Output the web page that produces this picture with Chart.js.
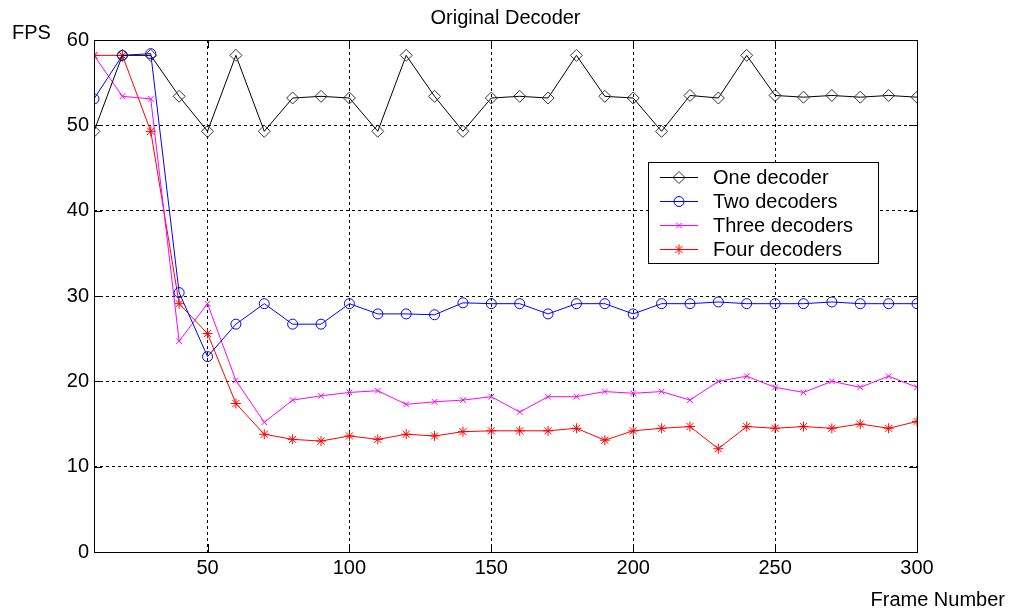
<!DOCTYPE html>
<html>
<head>
<meta charset="utf-8">
<script src="https://cdn.jsdelivr.net/npm/chart.js@4.4.1/dist/chart.umd.min.js"></script>
<style>
  html, body { margin: 0; padding: 0; background: #fff; }
  #wrap { width: 1011px; height: 613px; }
</style>
</head>
<body>
<div id="wrap"><canvas id="myChart" width="1011" height="613"></canvas></div>
<script>
// frame numbers on the x axis
const frames = [10, 20, 30, 40, 50, 60, 70, 80, 90, 100,
    110, 120, 130, 140, 150, 160, 170, 180, 190, 200,
    210, 220, 230, 240, 250, 260, 270, 280, 290, 300];

const oneDecoder = [49.3, 58.2, 58.2, 53.4, 49.3, 58.2, 49.3, 53.2, 53.4, 53.2,
    49.3, 58.2, 53.4, 49.3, 53.2, 53.4, 53.2, 58.2, 53.4, 53.2,
    49.3, 53.5, 53.2, 58.2, 53.5, 53.3, 53.5, 53.3, 53.5, 53.3];
const twoDecoders = [53.1, 58.2, 58.4, 30.4, 22.9, 26.7, 29.1, 26.7, 26.7, 29.1,
    27.9, 27.9, 27.8, 29.2, 29.1, 29.1, 27.9, 29.1, 29.1, 27.9,
    29.1, 29.1, 29.3, 29.1, 29.1, 29.1, 29.3, 29.1, 29.1, 29.1];
const threeDecoders = [58.2, 53.4, 53.1, 24.7, 29.1, 20.1, 15.2, 17.8, 18.3, 18.7,
    18.9, 17.3, 17.6, 17.8, 18.2, 16.4, 18.2, 18.2, 18.8, 18.6,
    18.8, 17.8, 20.0, 20.6, 19.3, 18.7, 20.0, 19.3, 20.6, 19.3];
const fourDecoders = [58.2, 58.2, 49.3, 29.1, 25.6, 17.4, 13.8, 13.2, 13.0, 13.6,
    13.2, 13.8, 13.6, 14.1, 14.2, 14.2, 14.2, 14.5, 13.1, 14.2,
    14.5, 14.7, 12.1, 14.7, 14.5, 14.7, 14.5, 15.0, 14.5, 15.3];

const xTicks = [50, 100, 150, 200, 250, 300];
const yTicks = [0, 10, 20, 30, 40, 50, 60];

const seriesNames = ['One decoder', 'Two decoders', 'Three decoders', 'Four decoders'];

const FONT = 'Liberation Sans, Arial, sans-serif';

function toPoints(vals) {
    return frames.map((f, i) => ({ x: f, y: vals[i] }));
}

// frame, inward ticks, axis texts and the legend box
const extras = {
    id: 'extras',
    afterDraw(chart) {
        const ctx = chart.ctx;
        const a = chart.chartArea;
        const xs = chart.scales.x, ys = chart.scales.y;
        ctx.save();
        ctx.strokeStyle = '#000';
        ctx.lineWidth = 1;
        ctx.setLineDash([]);
        ctx.strokeRect(Math.round(a.left) + 0.5, Math.round(a.top) + 0.5,
            Math.round(a.right - a.left), Math.round(a.bottom - a.top));
        const tl = 8;
        ctx.beginPath();
        xTicks.forEach(v => {
            const px = Math.round(xs.getPixelForValue(v)) + 0.5;
            ctx.moveTo(px, a.bottom); ctx.lineTo(px, a.bottom - tl);
            ctx.moveTo(px, a.top); ctx.lineTo(px, a.top + tl);
        });
        yTicks.forEach(v => {
            const py = Math.round(ys.getPixelForValue(v)) + 0.5;
            ctx.moveTo(a.left, py); ctx.lineTo(a.left + tl, py);
            ctx.moveTo(a.right, py); ctx.lineTo(a.right - tl, py);
        });
        ctx.stroke();

        ctx.fillStyle = '#000';
        ctx.font = '20px ' + FONT;
        ctx.textBaseline = 'middle';
        ctx.textAlign = 'center';
        ctx.fillText('Original Decoder', (a.left + a.right) / 2, 18);
        ctx.textAlign = 'left';
        ctx.fillText('FPS', 12, 33);
        ctx.textAlign = 'right';
        ctx.fillText('Frame Number', 1005, 600);

        // legend
        const lx = a.left + 554, ly = a.top + 122, lw = 230, lh = 101;
        ctx.fillStyle = '#fff';
        ctx.fillRect(lx, ly, lw, lh);
        ctx.strokeStyle = '#000';
        ctx.strokeRect(lx + 0.5, ly + 0.5, lw, lh);
        chart.data.datasets.forEach((ds, i) => {
            const yy = ly + 15 + i * 24;
            ctx.strokeStyle = ds.borderColor;
            ctx.lineWidth = 1;
            ctx.beginPath();
            ctx.moveTo(lx + 12, yy + 0.5);
            ctx.lineTo(lx + 50, yy + 0.5);
            ctx.stroke();
            ctx.strokeStyle = ds.pointBorderColor;
            ctx.fillStyle = 'rgba(0,0,0,0)';
            Chart.helpers.drawPoint(ctx, {
                pointStyle: ds.pointStyle,
                radius: ds.pointRadius,
                borderWidth: 1,
                rotation: 0
            }, lx + 31, yy + 0.5);
            ctx.fillStyle = '#000';
            ctx.textAlign = 'left';
            ctx.fillText(ds.label, lx + 65, yy + 1);
        });
        ctx.restore();
    }
};

function makeSet(label, vals, color, style, r, pointColor) {
    return {
        label: label,
        data: toPoints(vals),
        borderColor: color,
        borderWidth: 1,
        pointStyle: style,
        pointRadius: r,
        pointBorderColor: pointColor || color,
        pointBackgroundColor: 'rgba(0,0,0,0)',
        pointBorderWidth: 1,
        pointHoverRadius: r,
        tension: 0,
        fill: false
    };
}

const data = {
    datasets: [
        makeSet(seriesNames[0], oneDecoder, '#000000', 'rectRot', 6, '#333333'),
        makeSet(seriesNames[1], twoDecoders, '#0000ff', 'circle', 5),
        makeSet(seriesNames[2], threeDecoders, '#ff00ff', 'crossRot', 4),
        makeSet(seriesNames[3], fourDecoders, '#ff0000', 'star', 5)
    ]
};

const config = {
    type: 'line',
    data,
    options: {
        responsive: false,
        animation: false,
        layout: { padding: { top: 40, right: 94, left: 0, bottom: 0 } },
        plugins: { legend: { display: false }, tooltip: { enabled: false } },
        scales: {
            x: {
                type: 'linear',
                min: 10,
                max: 300,
                afterBuildTicks: s => { s.ticks = xTicks.map(v => ({ value: v })); },
                afterFit: s => { s.height = 61; },
                grid: { color: '#000', lineWidth: 1, drawTicks: false },
                border: { display: false, dash: [3, 3] },
                ticks: { color: '#000', padding: 4, maxRotation: 0, font: { family: FONT, size: 20 } }
            },
            y: {
                min: 0,
                max: 60,
                afterBuildTicks: s => { s.ticks = yTicks.map(v => ({ value: v })); },
                afterFit: s => { s.width = 94; },
                grid: { color: '#000', lineWidth: 1, drawTicks: false },
                border: { display: false, dash: [3, 3] },
                ticks: { color: '#000', padding: 5, font: { family: FONT, size: 20 } }
            }
        }
    },
    plugins: [extras]
};

var myChart = new Chart(document.getElementById('myChart'), config);
</script>
</body>
</html>
